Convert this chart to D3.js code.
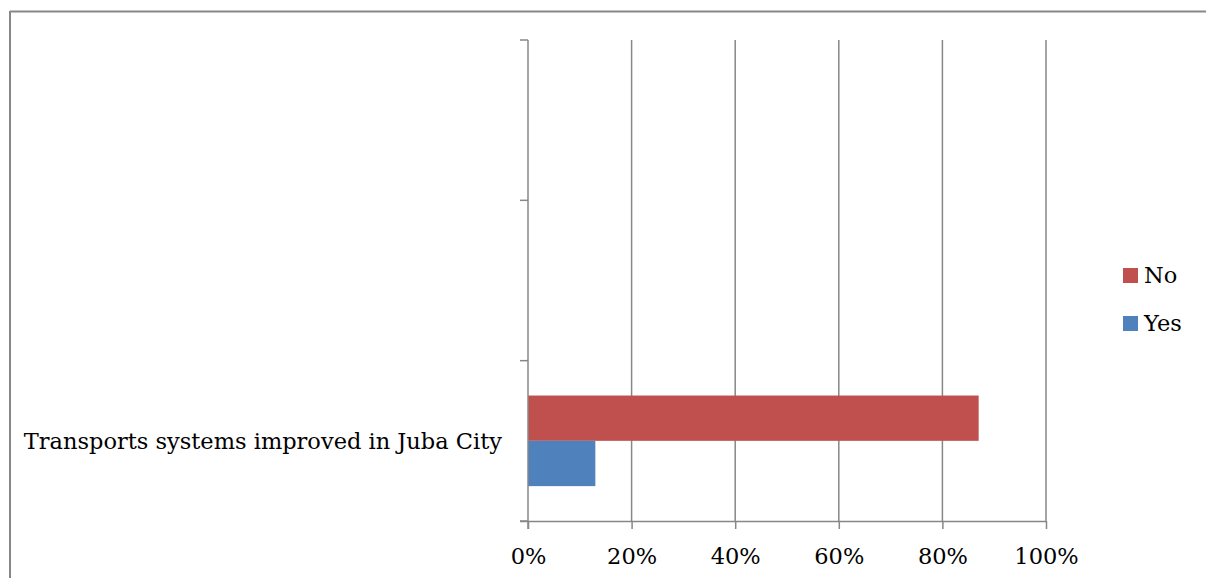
<!DOCTYPE html>
<html>
<head>
<meta charset="utf-8">
<script src="https://cdn.jsdelivr.net/npm/d3@7"></script>
<style>
  body { margin: 0; background: #fff; }
  svg text { font-family: "DejaVu Serif", "Liberation Serif", serif; fill: #000; }
</style>
</head>
<body>
<div id="chart"></div>
<script>
// chart data
const categories = ["", "", "Transports systems improved in Juba City"];
const seriesNames = ["No", "Yes"];
const noValues = [null, null, 0.87];
const yesValues = [null, null, 0.13];
const xTicks = [0, 0.2, 0.4, 0.6, 0.8, 1];
const colors = { No: "#c0504d", Yes: "#4f81bd" };

const width = 1206, height = 578;
const margin = { top: 40, left: 528, right: 160, bottom: 57 };
const fontSize = 22.5;

const svg = d3.select("#chart").append("svg")
    .attr("width", width)
    .attr("height", height);

// outer frame (left and top visible)
svg.append("line").attr("x1", 10).attr("x2", 10).attr("y1", 11).attr("y2", height)
    .attr("stroke", "#878787").attr("stroke-width", 2);
svg.append("line").attr("x1", 10).attr("x2", width).attr("y1", 11.5).attr("y2", 11.5)
    .attr("stroke", "#878787").attr("stroke-width", 2);

const x = d3.scaleLinear().domain([0, 1]).range([margin.left, 1046]);
const y = d3.scaleBand().domain(d3.range(categories.length))
    .range([margin.top, 521]);

// gridlines
svg.append("g").selectAll("line")
    .data(xTicks.slice(1))
    .enter().append("line")
    .attr("x1", d => x(d)).attr("x2", d => x(d))
    .attr("y1", margin.top).attr("y2", 521)
    .attr("stroke", "#878787").attr("stroke-width", 1.5);

// bars
const inner = d3.scaleBand().domain(seriesNames)
    .range([0, y.bandwidth()]).paddingOuter(0.77).paddingInner(0);

const rows = categories.map((c, i) => ({ i, No: noValues[i], Yes: yesValues[i] }));
svg.append("g").selectAll("g")
    .data(rows)
    .enter().append("g")
    .attr("transform", d => `translate(0,${y(d.i)})`)
    .selectAll("rect")
    .data(d => seriesNames.filter(s => d[s] != null).map(s => ({ s, v: d[s] })))
    .enter().append("rect")
    .attr("x", x(0))
    .attr("y", d => inner(d.s))
    .attr("width", d => x(d.v) - x(0))
    .attr("height", inner.bandwidth())
    .attr("fill", d => colors[d.s]);

// x axis
const xAxis = svg.append("g")
    .attr("transform", "translate(0,521)")
    .call(d3.axisBottom(x).tickValues(xTicks).tickFormat(d3.format(".0%")).tickSizeOuter(0).tickSize(8).tickPadding(19));
xAxis.select(".domain").attr("stroke", "#878787").attr("stroke-width", 1.5)
    .attr("d", `M${x(0) - 8},0.5H${x(1)}`);
xAxis.selectAll(".tick line").attr("stroke", "#878787").attr("stroke-width", 1.5);
xAxis.selectAll("text").attr("font-size", fontSize).attr("font-family", "DejaVu Serif");

// y axis
const yAxis = svg.append("g").attr("transform", `translate(${x(0)},0)`);
yAxis.append("line").attr("x1", 0).attr("x2", 0).attr("y1", margin.top).attr("y2", 529)
    .attr("stroke", "#878787").attr("stroke-width", 1.5);
const bounds = y.domain().map(i => y(i)).concat([521]);
yAxis.selectAll("line.tk").data(bounds).enter().append("line")
    .attr("class", "tk")
    .attr("x1", -8).attr("x2", 0)
    .attr("y1", d => d).attr("y2", d => d)
    .attr("stroke", "#878787").attr("stroke-width", 1.5);
yAxis.selectAll("text").data(categories).enter().append("text")
    .attr("x", -26)
    .attr("y", (d, i) => y(i) + y.bandwidth() / 2)
    .attr("dy", "0.35em")
    .attr("text-anchor", "end")
    .attr("font-size", fontSize)
    .text(d => d);

// legend
const legend = svg.append("g").attr("transform", "translate(1123,268)");
legend.selectAll("g").data(seriesNames).enter().append("g")
    .attr("transform", (d, i) => `translate(0,${i * 48})`)
    .each(function(d) {
        const g = d3.select(this);
        g.append("rect").attr("width", 15).attr("height", 15).attr("fill", colors[d]);
        g.append("text").attr("x", 21).attr("y", 15).attr("font-size", fontSize).text(d);
    });
</script>
</body>
</html>
